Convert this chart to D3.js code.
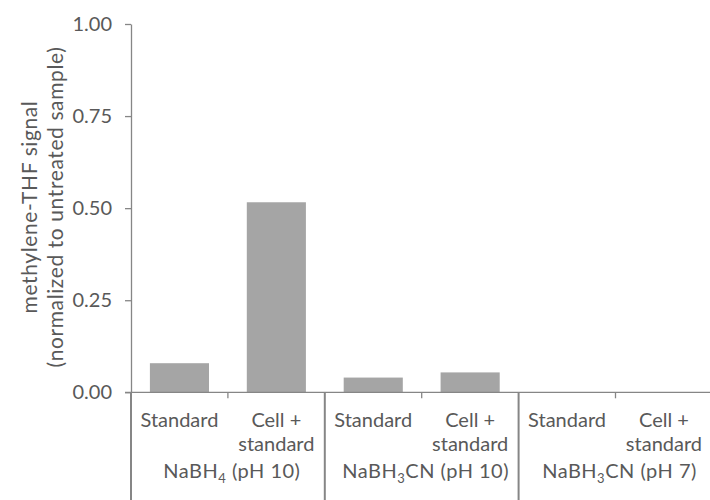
<!DOCTYPE html>
<html>
<head>
<meta charset="utf-8">
<script src="https://cdn.jsdelivr.net/npm/d3@7"></script>
<style>
  html, body { margin: 0; padding: 0; background: #fff; }
  svg { display: block; font-family: Lato, "Open Sans", sans-serif; }
</style>
</head>
<body>
<div id="chart"></div>
<script>
// ---- data ----
const groupLabels = [
  ["NaBH", "4", " (pH 10)"],
  ["NaBH", "3", "CN (pH 10)"],
  ["NaBH", "3", "CN (pH 7)"]
];
const conditionLabels = [["Standard"], ["Cell +", "standard"]];
const values = [0.079, 0.516, 0.040, 0.054, 0, 0];
const yTicks = [0, 0.25, 0.5, 0.75, 1];

const TEXT = "#595959";
const AXIS = "#868686";
const BAR = "#a5a5a5";
const FONT = "Lato, 'Open Sans', sans-serif";
const FS = 20;

const width = 710, height = 500;
const plotLeft = 131, plotTop = 24, plotBottom = 392.3;
const step = 96.9;

const cats = d3.range(values.length);

const svg = d3.select("#chart").append("svg")
  .attr("width", width)
  .attr("height", height);

const x = d3.scaleBand()
  .domain(cats)
  .range([plotLeft, plotLeft + step * cats.length])
  .paddingInner(0.39)
  .paddingOuter(0.195);

const y = d3.scaleLinear()
  .domain([0, 1])
  .range([plotBottom, plotTop]);

// ---------- BARS ----------
svg.selectAll("rect.bar")
  .data(values)
  .enter()
  .append("rect")
  .attr("class", "bar")
  .attr("x", (d, i) => x(i))
  .attr("width", x.bandwidth())
  .attr("y", d => y(d))
  .attr("height", d => y(0) - y(d))
  .attr("fill", BAR);

// ---------- Y AXIS ----------
const yAxis = svg.append("g")
  .attr("transform", `translate(${plotLeft},0)`)
  .call(d3.axisLeft(y).tickValues(yTicks).tickFormat(d3.format(".2f"))
    .tickSize(6).tickSizeOuter(0).tickPadding(13));

yAxis.select(".domain").attr("stroke", AXIS).attr("stroke-width", 1.3);
yAxis.selectAll(".tick line").attr("stroke", AXIS).attr("stroke-width", 1.3);
yAxis.selectAll(".tick text")
  .attr("fill", TEXT)
  .attr("font-size", FS)
  .attr("font-family", FONT);

// axis line continues down through the category table
svg.append("line")
  .attr("x1", plotLeft).attr("x2", plotLeft)
  .attr("y1", plotBottom).attr("y2", height)
  .attr("stroke", AXIS).attr("stroke-width", 2);

// ---------- X AXIS ----------
const xEnd = plotLeft + step * cats.length;
svg.append("line")
  .attr("x1", plotLeft - 6).attr("x2", xEnd)
  .attr("y1", y(0)).attr("y2", y(0))
  .attr("stroke", AXIS).attr("stroke-width", 1.3);

// boundaries between bars: short ticks inside a group, long lines between groups
const perGroup = conditionLabels.length;
d3.range(1, cats.length).forEach(k => {
  const bx = x(k) - x.step() * x.paddingInner() / 2;
  const isGroup = k % perGroup === 0;
  svg.append("line")
    .attr("x1", bx).attr("x2", bx)
    .attr("y1", y(0))
    .attr("y2", isGroup ? height : y(0) + 6)
    .attr("stroke", AXIS)
    .attr("stroke-width", isGroup ? 2 : 1.3);
});

// ---------- CATEGORY LABELS ----------
cats.forEach(i => {
  const lines = conditionLabels[i % perGroup];
  const t = svg.append("text")
    .attr("x", x(i) + x.bandwidth() / 2)
    .attr("y", 427)
    .attr("text-anchor", "middle")
    .attr("fill", TEXT)
    .attr("font-size", FS);
  lines.forEach((ln, j) => {
    t.append("tspan")
      .attr("x", x(i) + x.bandwidth() / 2)
      .attr("dy", j === 0 ? 0 : 24)
      .text(ln);
  });
});

groupLabels.forEach((parts, g) => {
  const cx = plotLeft + step * perGroup * g + step * perGroup / 2 + 4;
  const t = svg.append("text")
    .attr("x", cx)
    .attr("y", 478)
    .attr("text-anchor", "middle")
    .attr("fill", TEXT)
    .attr("letter-spacing", 0.5)
    .attr("font-size", FS);
  t.append("tspan").text(parts[0]);
  t.append("tspan").attr("font-size", 13).attr("dy", 5).text(parts[1]);
  t.append("tspan").attr("dy", -5).text(parts[2]);
});

// ---------- Y LABEL ----------
const yl = svg.append("text")
  .attr("transform", "translate(0,207) rotate(-90)")
  .attr("text-anchor", "middle")
  .attr("fill", TEXT)
  .attr("font-size", 21)
  .attr("letter-spacing", 0.6);
yl.append("tspan").attr("x", 0).attr("y", 36.5).text("methylene-THF signal");
yl.append("tspan").attr("x", 0).attr("y", 63).text("(normalized to untreated sample)");
</script>
</body>
</html>
